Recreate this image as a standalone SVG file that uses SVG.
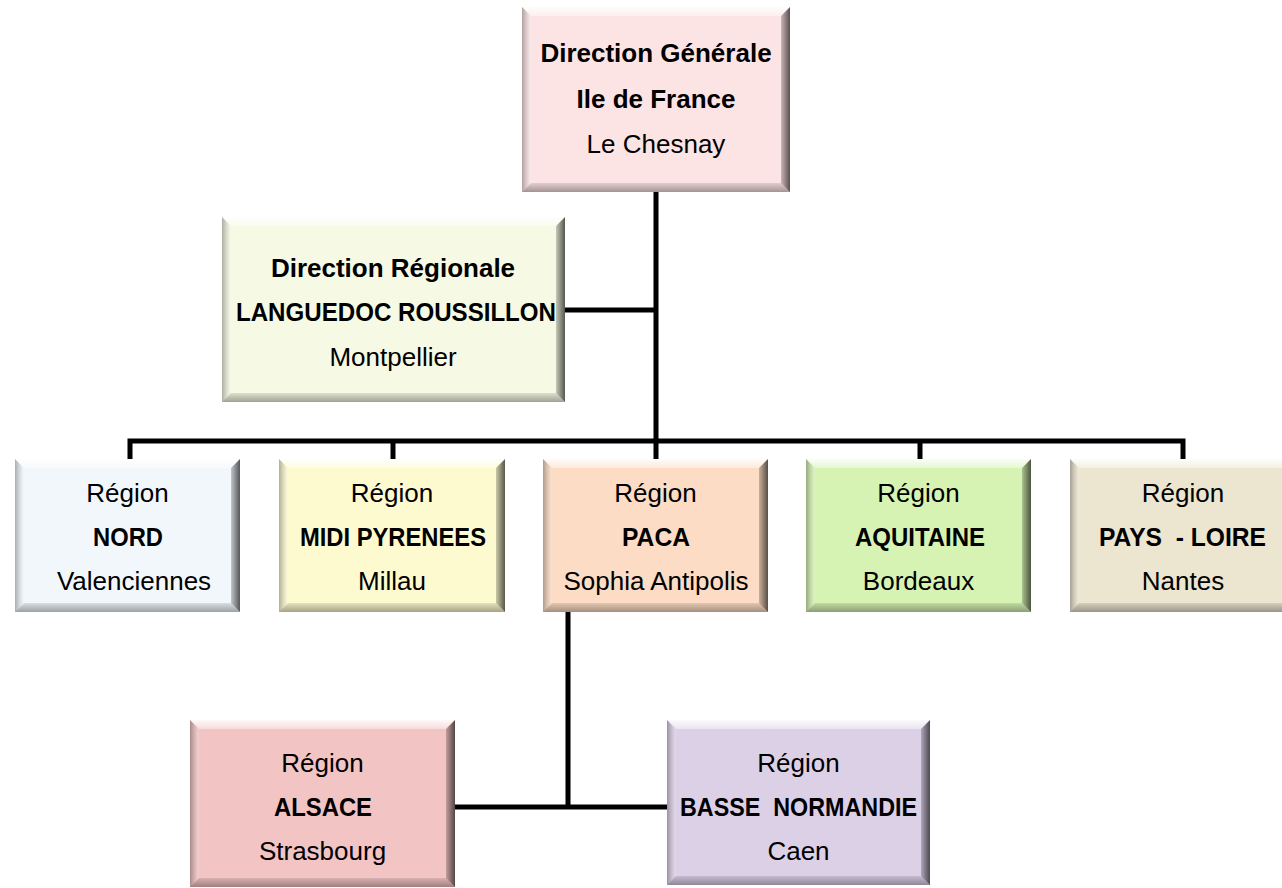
<svg xmlns="http://www.w3.org/2000/svg" width="1282" height="888" viewBox="0 0 1282 888">
<defs>
<linearGradient id="gr" x1="0" y1="0" x2="1" y2="0">
<stop offset="0" stop-color="#000" stop-opacity="0.2"/>
<stop offset="1" stop-color="#000" stop-opacity="0.65"/>
</linearGradient>
<linearGradient id="gt" x1="0" y1="0" x2="0" y2="1">
<stop offset="0" stop-color="#fff" stop-opacity="0.9"/>
<stop offset="1" stop-color="#fff" stop-opacity="0.4"/>
</linearGradient>
<linearGradient id="gb" x1="0" y1="0" x2="0" y2="1">
<stop offset="0" stop-color="#000" stop-opacity="0.1"/>
<stop offset="1" stop-color="#000" stop-opacity="0.35"/>
</linearGradient>
<linearGradient id="gl" x1="0" y1="0" x2="1" y2="0">
<stop offset="0" stop-color="#000" stop-opacity="0.3"/>
<stop offset="1" stop-color="#fff" stop-opacity="0.2"/>
</linearGradient>
</defs>
<style>
.bt{fill:url(#gt)}
.bl{fill:url(#gl)}
.br{fill:url(#gr)}
.bb{fill:url(#gb)}
.t{font-family:"Liberation Sans",Arial,sans-serif;font-size:26px;fill:#000;text-anchor:middle}
.b{font-weight:bold}
.c{fill:none;stroke:#000;stroke-width:5;stroke-linejoin:miter;stroke-linecap:butt}
</style>
<rect width="1282" height="888" fill="#fff"/>
<g id="connectors">
<path class="c" d="M656,192 V459"/>
<path class="c" d="M565,310 H658"/>
<path class="c" d="M130,459 V441 H1183 V459"/>
<path class="c" d="M393,441 V459"/>
<path class="c" d="M920,441 V459"/>
<path class="c" d="M568,612 V807"/>
<path class="c" d="M455,807 H667"/>
</g>
<g id="dg">
<rect x="522" y="7" width="268" height="185" fill="#FCE4E4"/>
<polygon class="bt" points="522,7 790,7 781,16 531,16"/>
<polygon class="bl" points="522,7 531,16 531,183 522,192"/>
<polygon class="br" points="790,7 790,192 781,183 781,16"/>
<polygon class="bb" points="522,192 531,183 781,183 790,192"/>
<text class="t b" x="656" y="62">Direction Générale</text>
<text class="t b" x="656" y="108">Ile de France</text>
<text class="t" x="656" y="153">Le Chesnay</text>
</g>
<g id="dr">
<rect x="222" y="217" width="343" height="185" fill="#F6F9E4"/>
<polygon class="bt" points="222,217 565,217 556,226 231,226"/>
<polygon class="bl" points="222,217 231,226 231,393 222,402"/>
<polygon class="br" points="565,217 565,402 556,393 556,226"/>
<polygon class="bb" points="222,402 231,393 556,393 565,402"/>
<text class="t b" x="393" y="277">Direction Régionale</text>
<text class="t b" x="396" y="321" textLength="320" lengthAdjust="spacingAndGlyphs">LANGUEDOC ROUSSILLON</text>
<text class="t" x="393" y="366">Montpellier</text>
</g>
<g id="nord">
<rect x="15" y="459" width="225" height="153" fill="#F2F7FC"/>
<polygon class="bt" points="15,459 240,459 231,468 24,468"/>
<polygon class="bl" points="15,459 24,468 24,603 15,612"/>
<polygon class="br" points="240,459 240,612 231,603 231,468"/>
<polygon class="bb" points="15,612 24,603 231,603 240,612"/>
<text class="t" x="127.5" y="502">Région</text>
<text class="t b" x="128" y="546" textLength="70" lengthAdjust="spacingAndGlyphs">NORD</text>
<text class="t" x="134" y="590">Valenciennes</text>
</g>
<g id="midi">
<rect x="279" y="459" width="226" height="153" fill="#FEFAD0"/>
<polygon class="bt" points="279,459 505,459 496,468 288,468"/>
<polygon class="bl" points="279,459 288,468 288,603 279,612"/>
<polygon class="br" points="505,459 505,612 496,603 496,468"/>
<polygon class="bb" points="279,612 288,603 496,603 505,612"/>
<text class="t" x="392" y="502">Région</text>
<text class="t b" x="393" y="546" textLength="186" lengthAdjust="spacingAndGlyphs">MIDI PYRENEES</text>
<text class="t" x="392" y="590">Millau</text>
</g>
<g id="paca">
<rect x="543" y="459" width="225" height="153" fill="#FCDCC4"/>
<polygon class="bt" points="543,459 768,459 759,468 552,468"/>
<polygon class="bl" points="543,459 552,468 552,603 543,612"/>
<polygon class="br" points="768,459 768,612 759,603 759,468"/>
<polygon class="bb" points="543,612 552,603 759,603 768,612"/>
<text class="t" x="655.5" y="502">Région</text>
<text class="t b" x="656" y="546" textLength="68" lengthAdjust="spacingAndGlyphs">PACA</text>
<text class="t" x="656" y="590">Sophia Antipolis</text>
</g>
<g id="aquitaine">
<rect x="806" y="459" width="225" height="153" fill="#D6F3B3"/>
<polygon class="bt" points="806,459 1031,459 1022,468 815,468"/>
<polygon class="bl" points="806,459 815,468 815,603 806,612"/>
<polygon class="br" points="1031,459 1031,612 1022,603 1022,468"/>
<polygon class="bb" points="806,612 815,603 1022,603 1031,612"/>
<text class="t" x="918.5" y="502">Région</text>
<text class="t b" x="920" y="546" textLength="130" lengthAdjust="spacingAndGlyphs">AQUITAINE</text>
<text class="t" x="918.5" y="590">Bordeaux</text>
</g>
<g id="pays">
<rect x="1070" y="459" width="226" height="153" fill="#ECE5CF"/>
<polygon class="bt" points="1070,459 1296,459 1287,468 1079,468"/>
<polygon class="bl" points="1070,459 1079,468 1079,603 1070,612"/>
<polygon class="br" points="1296,459 1296,612 1287,603 1287,468"/>
<polygon class="bb" points="1070,612 1079,603 1287,603 1296,612"/>
<text class="t" x="1183" y="502">Région</text>
<text class="t b" x="1182.5" y="546" textLength="167" lengthAdjust="spacingAndGlyphs" xml:space="preserve">PAYS  - LOIRE</text>
<text class="t" x="1183" y="590">Nantes</text>
</g>
<g id="alsace">
<rect x="190" y="720" width="265" height="167" fill="#F3C4C4"/>
<polygon class="bt" points="190,720 455,720 446,729 199,729"/>
<polygon class="bl" points="190,720 199,729 199,878 190,887"/>
<polygon class="br" points="455,720 455,887 446,878 446,729"/>
<polygon class="bb" points="190,887 199,878 446,878 455,887"/>
<text class="t" x="322.5" y="772">Région</text>
<text class="t b" x="323" y="816" textLength="98" lengthAdjust="spacingAndGlyphs">ALSACE</text>
<text class="t" x="322.5" y="860">Strasbourg</text>
</g>
<g id="bn">
<rect x="667" y="720" width="263" height="165" fill="#DCD0E7"/>
<polygon class="bt" points="667,720 930,720 921,729 676,729"/>
<polygon class="bl" points="667,720 676,729 676,876 667,885"/>
<polygon class="br" points="930,720 930,885 921,876 921,729"/>
<polygon class="bb" points="667,885 676,876 921,876 930,885"/>
<text class="t" x="798.5" y="772">Région</text>
<text class="t b" x="798.5" y="816" textLength="237" lengthAdjust="spacingAndGlyphs" xml:space="preserve">BASSE  NORMANDIE</text>
<text class="t" x="798.5" y="860">Caen</text>
</g>
</svg>
